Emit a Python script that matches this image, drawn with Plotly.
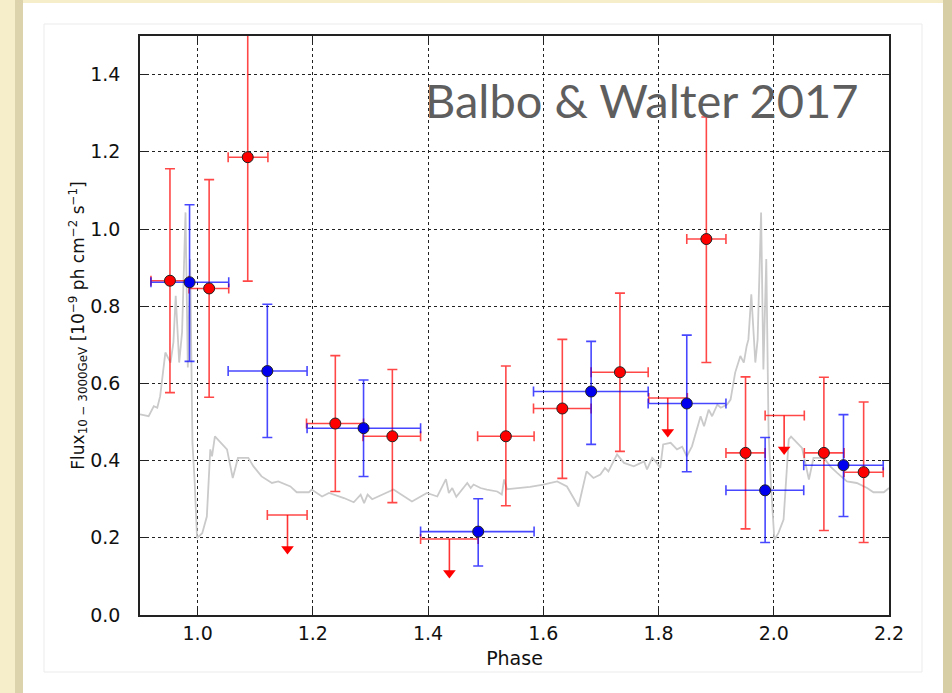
import plotly.graph_objects as go

# ---------------- data ----------------
red_x = [0.952, 1.020, 1.087, 1.239, 1.338, 1.535, 1.633, 1.733, 1.883, 1.951, 2.087, 2.156]
red_y = [0.866, 0.846, 1.186, 0.496, 0.463, 0.463, 0.535, 0.629, 0.974, 0.420, 0.420, 0.370]
red_y_hi = [1.156, 1.128, 1.620, 0.672, 0.636, 0.645, 0.714, 0.834, 1.290, 0.617, 0.616, 0.552]
red_y_lo = [0.576, 0.564, 0.865, 0.320, 0.291, 0.283, 0.354, 0.424, 0.654, 0.223, 0.219, 0.188]
red_x_lo = [0.919, 0.985, 1.053, 1.189, 1.287, 1.486, 1.583, 1.683, 1.849, 1.917, 2.053, 2.122]
red_x_hi = [0.985, 1.054, 1.122, 1.288, 1.387, 1.584, 1.683, 1.782, 1.917, 1.985, 2.122, 2.190]

blue_x = [0.986, 1.121, 1.288, 1.487, 1.683, 1.849, 1.985, 2.121]
blue_y = [0.862, 0.632, 0.484, 0.216, 0.579, 0.548, 0.323, 0.388]
blue_y_hi = [1.063, 0.805, 0.609, 0.301, 0.709, 0.725, 0.460, 0.519]
blue_y_lo = [0.657, 0.460, 0.359, 0.127, 0.442, 0.371, 0.188, 0.255]
blue_x_lo = [0.919, 1.053, 1.190, 1.387, 1.583, 1.782, 1.917, 2.052]
blue_x_hi = [1.054, 1.190, 1.387, 1.584, 1.782, 1.917, 2.052, 2.190]

ul_x = [1.156, 1.437, 1.816, 2.018]
ul_y = [0.259, 0.197, 0.562, 0.517]
ul_x_lo = [1.121, 1.387, 1.783, 1.985]
ul_x_hi = [1.190, 1.487, 1.850, 2.053]

model_phase = [0.900, 0.915, 0.924, 0.930, 0.935, 0.944, 0.953, 0.958, 0.962, 0.968, 0.973, 0.979,
               0.983, 0.987, 0.991, 0.995, 0.999, 1.008, 1.016, 1.022, 1.025, 1.030, 1.051, 1.061,
               1.070, 1.088, 1.097, 1.111, 1.129, 1.140, 1.161, 1.172, 1.193, 1.198, 1.216, 1.228,
               1.254, 1.271, 1.283, 1.289, 1.295, 1.303, 1.340, 1.372, 1.398, 1.416, 1.431, 1.436,
               1.442, 1.449, 1.468, 1.474, 1.479, 1.491, 1.502, 1.520, 1.528, 1.532, 1.537, 1.577,
               1.600, 1.624, 1.641, 1.661, 1.675, 1.687, 1.699, 1.707, 1.713, 1.728, 1.740, 1.757,
               1.775, 1.780, 1.789, 1.795, 1.803, 1.808, 1.821, 1.832, 1.841, 1.849, 1.858, 1.867,
               1.873, 1.879, 1.887, 1.893, 1.902, 1.908, 1.919, 1.925, 1.933, 1.942, 1.948, 1.953,
               1.956, 1.961, 1.968, 1.972, 1.978, 1.982, 1.987, 1.991, 1.995, 2.001, 2.008, 2.017,
               2.023, 2.026, 2.030, 2.049, 2.061, 2.069, 2.087, 2.098, 2.110, 2.127, 2.144, 2.162,
               2.173, 2.191, 2.200]
model_flux = [0.520, 0.515, 0.541, 0.537, 0.567, 0.680, 0.654, 0.706, 0.827, 0.654, 0.732, 1.043,
              0.641, 0.922, 0.446, 0.342, 0.199, 0.212, 0.255, 0.429, 0.411, 0.463, 0.429, 0.355,
              0.407, 0.407, 0.385, 0.359, 0.342, 0.346, 0.333, 0.318, 0.318, 0.325, 0.307, 0.316,
              0.303, 0.292, 0.312, 0.290, 0.312, 0.300, 0.325, 0.294, 0.316, 0.307, 0.352, 0.316,
              0.329, 0.306, 0.342, 0.329, 0.338, 0.329, 0.325, 0.320, 0.312, 0.351, 0.326, 0.332,
              0.338, 0.346, 0.333, 0.281, 0.372, 0.355, 0.364, 0.381, 0.372, 0.416, 0.394, 0.385,
              0.398, 0.377, 0.407, 0.398, 0.381, 0.442, 0.446, 0.429, 0.436, 0.411, 0.437, 0.481,
              0.515, 0.489, 0.532, 0.515, 0.545, 0.537, 0.545, 0.558, 0.628, 0.671, 0.654, 0.697,
              0.714, 0.831, 0.654, 0.714, 1.043, 0.636, 0.922, 0.472, 0.342, 0.195, 0.212, 0.247,
              0.385, 0.455, 0.462, 0.433, 0.351, 0.407, 0.407, 0.385, 0.368, 0.346, 0.342, 0.329,
              0.318, 0.318, 0.329]

x_ticks = [1.0, 1.2, 1.4, 1.6, 1.8, 2.0, 2.2]
y_ticks = [0.0, 0.2, 0.4, 0.6, 0.8, 1.0, 1.2, 1.4]
title_text = "Balbo & Walter 2017"
x_label = "Phase"
y_label = "Flux<sub>10 − 3000GeV</sub> [10<sup>−9</sup> ph cm<sup>−2</sup> s<sup>−1</sup>]"
ARROW_LEN = 0.1

# ---------------- styles ----------------
RED_BAR = "rgba(255,0,0,0.72)"
BLUE_BAR = "rgba(0,0,255,0.72)"
W, H = 952, 693
L, R, T, B = 140, 63, 36, 78
PW, PH = W - L - R, H - T - B


def px_to_paper_x(px):
    return (px - L) / PW


def px_to_paper_y(py):
    return (H - B - py) / PH


def asym(center, lo, hi):
    return [h - c for c, h in zip(center, hi)], [c - l for c, l in zip(center, lo)]


fig = go.Figure()

# model light curve
fig.add_trace(go.Scatter(x=model_phase, y=model_flux, mode="lines",
                         line=dict(color="#cacaca", width=1.8), hoverinfo="skip"))

# red error bars
ry_p, ry_m = asym(red_y, red_y_lo, red_y_hi)
rx_p, rx_m = asym(red_x, red_x_lo, red_x_hi)
fig.add_trace(go.Scatter(
    x=red_x, y=red_y, mode="markers", marker=dict(size=1, opacity=0),
    error_y=dict(type="data", symmetric=False, array=ry_p, arrayminus=ry_m,
                 color=RED_BAR, thickness=1.6, width=5),
    error_x=dict(type="data", symmetric=False, array=rx_p, arrayminus=rx_m,
                 color=RED_BAR, thickness=1.6, width=5)))

# upper limits (horizontal bar + arrow)
ux_p, ux_m = asym(ul_x, ul_x_lo, ul_x_hi)
fig.add_trace(go.Scatter(
    x=ul_x, y=ul_y, mode="markers", marker=dict(size=1, opacity=0),
    error_y=dict(type="data", symmetric=False, array=[0] * len(ul_y),
                 arrayminus=[ARROW_LEN * 0.9] * len(ul_y),
                 color="rgba(255,0,0,0.8)", thickness=1.6, width=0),
    error_x=dict(type="data", symmetric=False, array=ux_p, arrayminus=ux_m,
                 color=RED_BAR, thickness=1.6, width=5)))
fig.add_trace(go.Scatter(
    x=ul_x, y=[v - ARROW_LEN + 0.012 for v in ul_y], mode="markers",
    marker=dict(symbol="triangle-down", size=11, color="#ff0000",
                line=dict(width=0))))

# blue error bars
by_p, by_m = asym(blue_y, blue_y_lo, blue_y_hi)
bx_p, bx_m = asym(blue_x, blue_x_lo, blue_x_hi)
fig.add_trace(go.Scatter(
    x=blue_x, y=blue_y, mode="markers", marker=dict(size=1, opacity=0),
    error_y=dict(type="data", symmetric=False, array=by_p, arrayminus=by_m,
                 color=BLUE_BAR, thickness=1.6, width=5),
    error_x=dict(type="data", symmetric=False, array=bx_p, arrayminus=bx_m,
                 color=BLUE_BAR, thickness=1.6, width=5)))

# markers on top
fig.add_trace(go.Scatter(x=red_x, y=red_y, mode="markers",
                         marker=dict(size=11, color="#ff0000", line=dict(color="#222", width=1))))
fig.add_trace(go.Scatter(x=blue_x, y=blue_y, mode="markers",
                         marker=dict(size=11, color="#0000ee", line=dict(color="#222", width=1))))

# ---------------- background slide decoration ----------------
shapes = [
    dict(type="rect", xref="paper", yref="paper", layer="below",
         x0=px_to_paper_x(0), x1=px_to_paper_x(W), y0=px_to_paper_y(H), y1=px_to_paper_y(0),
         fillcolor="#f6eecb", line=dict(width=0)),
    dict(type="rect", xref="paper", yref="paper", layer="below",
         x0=px_to_paper_x(15), x1=px_to_paper_x(23), y0=px_to_paper_y(H), y1=px_to_paper_y(0),
         fillcolor="#dcd2ac", line=dict(width=0)),
    dict(type="rect", xref="paper", yref="paper", layer="below",
         x0=px_to_paper_x(943), x1=px_to_paper_x(952), y0=px_to_paper_y(H), y1=px_to_paper_y(0),
         fillcolor="#d8cea6", line=dict(width=0)),
    dict(type="rect", xref="paper", yref="paper", layer="below",
         x0=px_to_paper_x(23), x1=px_to_paper_x(943), y0=px_to_paper_y(H + 5), y1=px_to_paper_y(3),
         fillcolor="#ffffff", line=dict(width=0)),
    dict(type="rect", xref="paper", yref="paper", layer="below",
         x0=px_to_paper_x(44), x1=px_to_paper_x(922), y0=px_to_paper_y(672), y1=px_to_paper_y(24),
         fillcolor="rgba(0,0,0,0)", line=dict(color="#ebebeb", width=1)),
]

fig.update_layout(
    width=W, height=H,
    margin=dict(l=L, r=R, t=T, b=B, pad=0),
    paper_bgcolor="#f6eecb", plot_bgcolor="#ffffff",
    showlegend=False,
    shapes=shapes,
    font=dict(family="DejaVu Sans", color="#111111"),
    annotations=[dict(text=title_text, xref="paper", yref="paper",
                      x=px_to_paper_x(423), y=px_to_paper_y(100),
                      xanchor="left", yanchor="middle", showarrow=False,
                      font=dict(family="Lato", size=47, color="#5e5e5e"))],
)

axis_common = dict(showline=True, linecolor="#222222", linewidth=1.5, mirror="ticks",
                   ticks="inside", ticklen=7, tickcolor="#222222", tickwidth=1,
                   showgrid=True, gridcolor="#222222", gridwidth=1, griddash="3px,3px",
                   zeroline=False, tickfont=dict(family="DejaVu Sans", size=19, color="#111111"))

fig.update_xaxes(range=[0.9, 2.2], tickvals=x_ticks, tickformat=".1f",
                 title=dict(text=x_label, font=dict(family="DejaVu Sans", size=19), standoff=9),
                 ticklabelstandoff=0, **axis_common)
fig.update_yaxes(range=[0, 1.5], tickvals=y_ticks, tickformat=".1f",
                 title=dict(text=y_label, font=dict(family="DejaVu Sans", size=17), standoff=0),
                 ticklabelstandoff=14, **axis_common)

fig.write_html("out.html", config={"displayModeBar": False},
               post_script="document.body.style.margin='0';document.body.style.overflow='hidden';")
